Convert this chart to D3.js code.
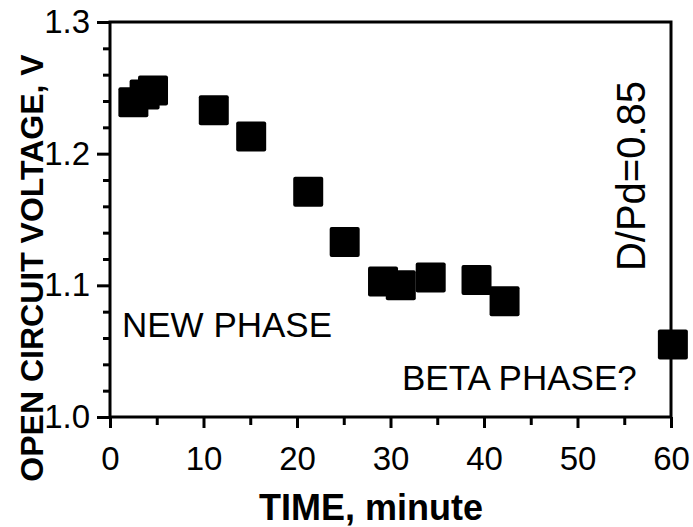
<!DOCTYPE html>
<html>
  <head>
    <meta charset="utf-8">
    <style type="text/css">
      body { margin: 0; background: #fff; }
      text { font-family: "Liberation Sans", Arial, sans-serif; fill: #000; }
      .tick line { stroke: #000; stroke-width: 3; }
      .frame { fill: none; stroke: #000; stroke-width: 3; }
    </style>
  </head>
  <body>
    <script src="https://d3js.org/d3.v7.min.js"></script>
    <script>
      // values
      var timeMin = [2.5, 3.7, 4.6, 11.1, 15.1, 21.2, 25.1, 29.2, 31.1, 34.3, 39.2, 42.2, 60.2];
      var voltage = [1.239, 1.245, 1.248, 1.233, 1.213, 1.171, 1.133, 1.103, 1.100, 1.106, 1.104, 1.088, 1.055];
      var xMajor = [0, 10, 20, 30, 40, 50, 60];
      var xMinor = [5, 15, 25, 35, 45, 55];
      var yMajor = [1.0, 1.1, 1.2, 1.3];
      var yMinor = [1.02, 1.04, 1.06, 1.08, 1.12, 1.14, 1.16, 1.18, 1.22, 1.24, 1.26, 1.28];

      var width = 693, height = 527;
      var svg = d3.select("body").append("svg")
          .attr("width", width)
          .attr("height", height);

      var x = d3.scaleLinear().domain([0, 60]).range([110, 671]);
      var y = d3.scaleLinear().domain([1.0, 1.3]).range([417, 22]);

      // minor ticks
      svg.append("g")
          .attr("transform", "translate(0," + y(1.0) + ")")
          .call(d3.axisBottom(x).tickValues(xMinor).tickSize(8).tickSizeOuter(0).tickFormat(""))
          .call(function(g) { g.select(".domain").remove(); });
      svg.append("g")
          .attr("transform", "translate(" + x(0) + ",0)")
          .call(d3.axisLeft(y).tickValues(yMinor).tickSize(7).tickSizeOuter(0).tickFormat(""))
          .call(function(g) { g.select(".domain").remove(); });

      // major ticks + labels
      var xAxis = svg.append("g")
          .attr("transform", "translate(0," + y(1.0) + ")")
          .call(d3.axisBottom(x).tickValues(xMajor).tickSize(11).tickSizeOuter(0).tickPadding(19).tickFormat(d3.format("d")));
      xAxis.select(".domain").remove();
      xAxis.selectAll("text").attr("font-size", 33).attr("font-family", null);

      var yAxis = svg.append("g")
          .attr("transform", "translate(" + x(0) + ",0)")
          .call(d3.axisLeft(y).tickValues(yMajor).tickSize(13).tickSizeOuter(0).tickPadding(7).tickFormat(d3.format(".1f")));
      yAxis.select(".domain").remove();
      yAxis.selectAll("text").attr("font-size", 33).attr("font-family", null);

      // frame
      svg.append("rect")
          .attr("class", "frame")
          .attr("x", x(0))
          .attr("y", y(1.3))
          .attr("width", x(60) - x(0))
          .attr("height", y(1.0) - y(1.3));

      // data squares
      var pts = timeMin.map(function(t, i) { return { t: t, v: voltage[i] }; });
      var s = 30;
      svg.append("g").selectAll("rect")
          .data(pts)
        .enter().append("rect")
          .attr("x", function(d) { return x(d.t) - s / 2; })
          .attr("y", function(d) { return y(d.v) - s / 2; })
          .attr("width", s)
          .attr("height", s)
          .attr("rx", 2)
          .attr("fill", "#000");

      // annotations
      svg.append("text")
          .attr("x", 122).attr("y", 337)
          .attr("font-size", 35)
          .text("NEW PHASE");

      svg.append("text")
          .attr("x", 402).attr("y", 390)
          .attr("font-size", 35)
          .text("BETA PHASE?");

      svg.append("text")
          .attr("transform", "translate(645,176) rotate(-90)")
          .attr("text-anchor", "middle")
          .attr("font-size", 40)
          .text("D/Pd=0.85");

      // axis titles
      svg.append("text")
          .attr("x", 371).attr("y", 520)
          .attr("text-anchor", "middle")
          .attr("font-size", 36)
          .attr("font-weight", "bold")
          .text("TIME, minute");

      svg.append("text")
          .attr("transform", "translate(43,268) rotate(-90)")
          .attr("text-anchor", "middle")
          .attr("font-size", 32)
          .attr("font-weight", "bold")
          .text("OPEN CIRCUIT VOLTAGE, V");
    </script>
  </body>
</html>
